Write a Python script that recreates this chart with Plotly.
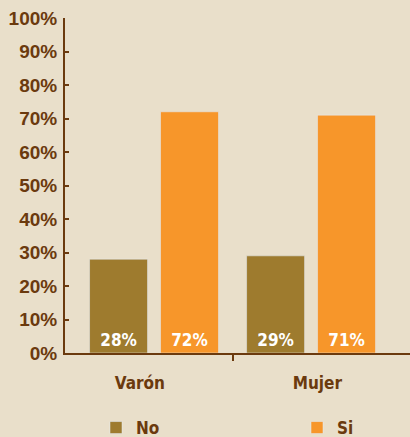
import plotly.graph_objects as go

categories = ["Varón", "Mujer"]
no_values = [28, 29]
si_values = [72, 71]
y_ticks = [0, 10, 20, 30, 40, 50, 60, 70, 80, 90, 100]

BG = "#E9DFCA"
BROWN = "#6B3A0E"
NO_COLOR = "#9E7B2E"
SI_COLOR = "#F7962A"
COND = "DejaVu Sans Condensed, Liberation Sans Narrow, sans-serif"
LABEL_SHIFT = [-0.09, 0.04]  # category labels sit slightly off the group centres

xpos = list(range(len(categories)))
label_pos = [p + s for p, s in zip(xpos, LABEL_SHIFT)]

fig = go.Figure()
fig.add_trace(go.Bar(
    x=xpos, y=no_values, name="No", marker_color=NO_COLOR, legend="legend",
    text=[f"{v}%" for v in no_values], textposition="inside",
    insidetextanchor="start",
    textfont=dict(family=COND, size=17, color="white", weight="bold"),
))
fig.add_trace(go.Bar(
    x=xpos, y=si_values, name="Si", marker_color=SI_COLOR, legend="legend2",
    text=[f"{v}%" for v in si_values], textposition="inside",
    insidetextanchor="start",
    textfont=dict(family=COND, size=17, color="white", weight="bold"),
))
# invisible trace to bind the secondary axis for the middle tick
fig.add_trace(go.Scatter(x=[0.5], y=[0], xaxis="x2", mode="markers",
                         marker=dict(opacity=0), showlegend=False, hoverinfo="skip"))

legend_font = dict(family=COND, size=17, color=BROWN, weight="bold")
fig.update_layout(
    width=410, height=437,
    paper_bgcolor=BG, plot_bgcolor=BG,
    margin=dict(l=65, r=0, t=18, b=84, autoexpand=False),
    barmode="group", bargap=0.096, bargroupgap=0.183,
    showlegend=True,
    legend=dict(orientation="h", x=96 / 410, xref="container", xanchor="left",
                y=1 - 428 / 437, yref="container", yanchor="middle",
                font=legend_font, bgcolor="rgba(0,0,0,0)"),
    legend2=dict(orientation="h", x=297 / 410, xref="container", xanchor="left",
                 y=1 - 428 / 437, yref="container", yanchor="middle",
                 font=legend_font, bgcolor="rgba(0,0,0,0)"),
    xaxis=dict(range=[-0.567, 1.63], tickvals=label_pos, ticktext=categories,
               ticks="", showgrid=False, zeroline=False,
               showline=True, linecolor=BROWN, linewidth=2,
               tickfont=dict(family=COND, size=17, color=BROWN, weight="bold"),
               ticklabelstandoff=14, fixedrange=True, automargin=False),
    xaxis2=dict(range=[-0.567, 1.63], overlaying="x", side="bottom",
                tickvals=[0.5], ticktext=[""], ticks="outside", ticklen=7,
                tickwidth=2, tickcolor=BROWN, showgrid=False, zeroline=False,
                showline=False, showticklabels=False, anchor="y", automargin=False),
    yaxis=dict(range=[0, 100], tickvals=y_ticks,
               ticktext=[f"{v}%" for v in y_ticks],
               ticks="inside", ticklen=4, tickwidth=2, tickcolor=BROWN,
               showgrid=False, zeroline=False,
               showline=True, linecolor=BROWN, linewidth=2,
               tickfont=dict(family="Liberation Sans, Arial, sans-serif", size=19,
                             color=BROWN, weight="bold"),
               ticklabelstandoff=2, fixedrange=True, automargin=False),
)

fig.write_html(
    "out.html",
    config={"displayModeBar": False},
    post_script="document.body.style.margin='0';document.body.style.padding='0';",
)
